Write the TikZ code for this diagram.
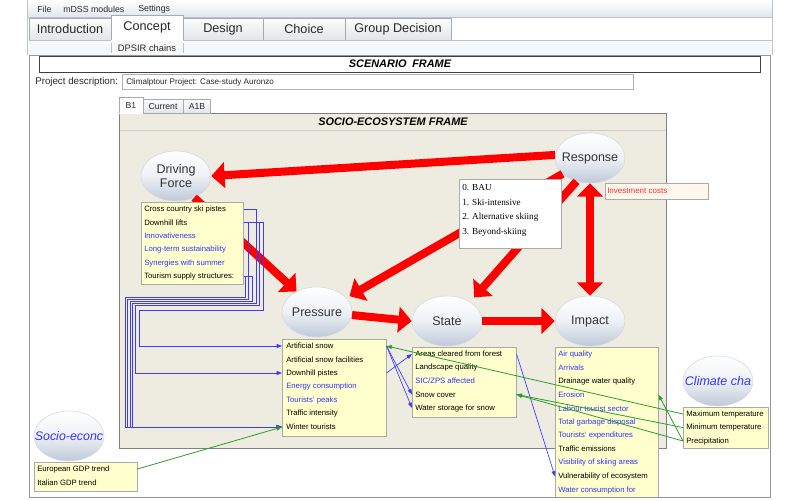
\documentclass[tikz,border=0pt]{standalone}
\usepackage{fontspec}
\setmainfont{Liberation Sans}
\newfontfamily\seriffont{Liberation Serif}
\usetikzlibrary{arrows.meta,shapes.geometric,calc,shadows}

\definecolor{beige}{RGB}{238,235,224}
\definecolor{boxyellow}{RGB}{255,255,206}
\definecolor{boxedge}{RGB}{170,170,170}
\definecolor{itemblue}{RGB}{51,51,255}
\definecolor{conblue}{RGB}{60,60,255}
\definecolor{congreen}{RGB}{40,160,40}
\definecolor{ellbot}{RGB}{190,201,216}
\definecolor{ellmid}{RGB}{238,241,245}
\definecolor{ellline}{RGB}{212,216,222}
\definecolor{tabtop}{RGB}{252,252,252}
\definecolor{tabbot}{RGB}{226,229,234}
\definecolor{tabedge}{RGB}{165,170,178}
\definecolor{uiedge}{RGB}{190,195,202}
\definecolor{menubot}{RGB}{226,230,236}
\definecolor{subrow}{RGB}{246,248,250}
\definecolor{panedge}{RGB}{150,150,150}
\definecolor{invfill}{RGB}{255,246,236}
\definecolor{invtext}{RGB}{240,50,50}
\definecolor{darktext}{RGB}{51,51,51}
\definecolor{uitext}{RGB}{40,40,40}
\definecolor{frameedge}{RGB}{128,128,128}
\definecolor{titleline}{RGB}{205,205,205}
\definecolor{fieldedge}{RGB}{170,178,190}

\tikzset{
  ell/.style={ellipse, draw=ellline, top color=white, bottom color=ellbot, middle color=ellmid,
    minimum width=52.5pt, minimum height=37.5pt, inner sep=0pt},
  elltext/.style={inner sep=0pt, font=\fontsize{9.4}{10.5}\selectfont, text=darktext, align=center},
  ybox/.style={draw=boxedge, fill=boxyellow, rectangle, inner sep=0pt, anchor=north west,
    drop shadow={shadow xshift=0.8pt, shadow yshift=-0.8pt, opacity=0.25, fill=black}},
  item/.style={anchor=west, inner sep=0pt, font=\fontsize{5.8}{7}\selectfont, text=black},
  bitem/.style={item, text=itemblue},
  opt/.style={anchor=west, inner sep=0pt, font=\seriffont\fontsize{6.9}{8}\selectfont, text=black},
  redarr/.style={draw=red, line width=6pt, -{Triangle[width=19pt,length=10pt]}},
  redboth/.style={draw=red, line width=6pt, {Triangle[width=19pt,length=10pt]}-{Triangle[width=19pt,length=10pt]}},
  bcon/.style={draw=conblue, line width=0.5pt, -{Triangle[width=3pt,length=4pt]}},
  gcon/.style={draw=congreen, line width=0.6pt, -{Triangle[width=3pt,length=4pt]}},
  tabbox/.style={draw=tabedge, top color=tabtop, bottom color=tabbot},
  tablabel/.style={inner sep=0pt, font=\fontsize{9.5}{11}\selectfont, text=uitext},
  menutext/.style={anchor=west, inner sep=0pt, font=\fontsize{6.6}{8}\selectfont, text=uitext},
  smalltab/.style={inner sep=0pt, font=\fontsize{6.5}{8}\selectfont, text=uitext},
  frametitle/.style={inner sep=0pt, font=\fontsize{8.2}{10}\selectfont\bfseries\itshape, text=black},
}

\begin{document}
\begin{tikzpicture}[x=0.75pt,y=-0.75pt]
\useasboundingbox (0,0) rectangle (800,500);
\fill[white] (0,0) rectangle (800,500);

% ---------- window chrome ----------
\shade[top color=white, bottom color=menubot] (27,0) rectangle (772,17);
\draw[uiedge] (27,17) -- (772,17);
\draw[uiedge] (27,0) -- (27,55);
\draw[uiedge] (772,0) -- (772,55);
\node[menutext] (mfile) at (37,9) {File};
\node[menutext] (mmod) at (63,9) {mDSS modules};
\node[menutext] (mset) at (138,9) {Settings};

\draw[tabbox] (29,18) rectangle (111,40);
\draw[tabbox] (183,18) rectangle (263,40);
\draw[tabbox] (263,18) rectangle (345,40);
\draw[tabbox] (345,18) rectangle (451,40);
\fill[white] (111,15) rectangle (183,41);
\draw[tabedge] (111,40) -- (111,15) -- (183,15) -- (183,40);
\draw[uiedge] (29,40) -- (111,40);
\draw[uiedge] (183,40) -- (772,40);
\node[tablabel] (tintro) at (70,29) {Introduction};
\node[tablabel] (tconc) at (147,27) {Concept};
\node[tablabel] (tdes) at (223,29) {Design};
\node[tablabel] (tcho) at (304,29) {Choice};
\node[tablabel] (tgrp) at (398,29) {Group Decision};

\fill[subrow] (29,41) rectangle (771,55);
\draw[uiedge] (29,55) -- (771,55);
\draw[uiedge] (111,43) -- (111,53);
\draw[uiedge] (183,43) -- (183,53);
\node[inner sep=0pt, font=\fontsize{7}{8}\selectfont, text=uitext] (dpsir) at (147,48) {DPSIR chains};

% ---------- scenario frame ----------
\draw[panedge] (29,55) rectangle (770,497);
\draw[black!75, line width=0.6pt] (39,56) rectangle (760,72);
\node[frametitle] (scen) at (400,64) {SCENARIO\hspace{2pt} FRAME};
\node[anchor=west, inner sep=0pt, font=\fontsize{7.3}{9}\selectfont, text=uitext] (projlab) at (35,82) {Project description:};
\node[draw=fieldedge, fill=white, anchor=north west, inner sep=0pt,
  minimum width=383.25pt, minimum height=11.25pt] (projfield) at (122,74) {};
\node[anchor=west, inner sep=0pt, font=\fontsize{6.1}{8}\selectfont, text=uitext] (projtext) at (126,82) {Climalptour Project: Case-study Auronzo};

% ---------- socio-ecosystem frame ----------
\draw[draw=frameedge, fill=beige] (119,113) rectangle (666,448);
\draw[titleline] (120,130) -- (665,130);
\node[frametitle] (socfr) at (393,122) {SOCIO-ECOSYSTEM FRAME};
\draw[tabbox] (143,99) rectangle (183,113);
\draw[tabbox] (183,99) rectangle (210,113);
\fill[white] (119,97) rectangle (143,113.5);
\draw[tabedge] (119,113) -- (119,97) -- (143,97) -- (143,113);
\node[smalltab] (tb1) at (131,106) {B1};
\node[smalltab] (tcur) at (163,107) {Current};
\node[smalltab] (ta1b) at (197,107) {A1B};

% ---------- ellipses ----------
\node[ell] (df) at (176,176) {};
\node[ell] (resp) at (590,158) {};
\node[ell] (pres) at (317,312) {};
\node[ell] (stat) at (447,321) {};
\node[ell] (imp) at (590,321) {};
\node[ell] (clim) at (718,381) {};
\node[ell] (socio) at (69,436) {};

% ---------- red arrows ----------
\draw[redarr] (resp.175) -- (df.east);
\draw[redarr] (df.-50) -- (pres.135);
\draw[redarr] (resp.-150) -- ($(pres.30)+(5,0)$);
\draw[redarr] (resp.-120) -- ($(stat.50)+(9,-2)$);
\draw[redarr] (pres.-5) -- (stat.west);
\draw[redarr] (stat.east) -- (imp.west);
\draw[redboth] (imp.north) -- (resp.south);

% ellipse labels
\node[elltext] (dflab) at (df.center) {Driving\\Force};
\node[elltext] (resplab) at (resp.center) {Response};
\node[elltext] (preslab) at (pres.center) {Pressure};
\node[elltext] (statlab) at (stat.center) {State};
\node[elltext] (implab) at (imp.center) {Impact};
\node[elltext, font=\fontsize{9.4}{10.5}\selectfont\itshape, text=itemblue] (climlab) at (clim.center) {Climate cha};
\node[elltext, font=\fontsize{9.3}{10.5}\selectfont\itshape, text=itemblue] (sociolab) at (socio.center) {Socio-econc};

% ---------- response options ----------
\node[draw=boxedge, fill=white, anchor=north west, inner sep=0pt, minimum width=76.5pt, minimum height=51.75pt,
  drop shadow={shadow xshift=0.8pt, shadow yshift=-0.8pt, opacity=0.25, fill=black}] (optbox) at (459,179) {};
\node[opt] (o0) at (462,188) {0. BAU};
\node[opt] (o1) at (462,202.5) {1. Ski-intensive};
\node[opt] (o2) at (462,217) {2. Alternative skiing};
\node[opt] (o3) at (462,232) {3. Beyond-skiing};

\node[draw=boxedge, fill=invfill, anchor=north west, inner sep=0pt, minimum width=77.25pt, minimum height=12pt,
  drop shadow={shadow xshift=0.8pt, shadow yshift=-0.8pt, opacity=0.25, fill=black}] (invbox) at (605,183) {};
\node[item, text=invtext, font=\fontsize{6}{7}\selectfont] (inv) at (607,191) {Investment costs};

% ---------- driving force box ----------
\node[ybox, minimum width=76.5pt, minimum height=61.5pt] (dfbox) at (141,202) {};
\node[item] (dfi1) at (144,209) {Cross country ski pistes};
\node[item] (dfi2) at (144,222.5) {Downhill lifts};
\node[bitem] (dfi3) at (144,236) {Innovativeness};
\node[bitem] (dfi4) at (144,249.5) {Long-term sustainability};
\node[bitem] (dfi5) at (144,263) {Synergies with summer};
\node[item] (dfi6) at (144,276.5) {Tourism supply structures:};

% ---------- pressure box ----------
\node[ybox, minimum width=78pt, minimum height=72.75pt] (prbox) at (282,339) {};
\node[item] (pri1) at (286,346) {Artificial snow};
\node[item] (pri2) at (286,359.5) {Artificial snow facilities};
\node[item] (pri3) at (286,373) {Downhill pistes};
\node[bitem] (pri4) at (286,386.5) {Energy consumption};
\node[bitem] (pri5) at (286,400) {Tourists' peaks};
\node[item] (pri6) at (286,413.5) {Traffic intensity};
\node[item] (pri7) at (286,427) {Winter tourists};

% ---------- state box ----------
\node[ybox, minimum width=78pt, minimum height=52.5pt] (stbox) at (412,347) {};
\node[item] (sti1) at (415,354) {Areas cleared from forest};
\node[item] (sti2) at (415,367.5) {Landscape quality};
\node[bitem] (sti3) at (415,381) {SIC/ZPS affected};
\node[item] (sti4) at (415,394.5) {Snow cover};
\node[item] (sti5) at (415,408) {Water storage for snow};

% ---------- impact box (clipped by panel) ----------
\begin{scope}
\clip (0,0) rectangle (800,496);
\node[ybox, minimum width=77.25pt, minimum height=114.75pt] (imbox) at (555,347) {};
\node[bitem] (imi1) at (558,354) {Air quality};
\node[bitem] (imi2) at (558,367.6) {Arrivals};
\node[item] (imi3) at (558,381.2) {Drainage water quality};
\node[bitem] (imi4) at (558,394.8) {Erosion};
\node[bitem] (imi5) at (558,408.4) {Labour tourist sector};
\node[bitem] (imi6) at (558,422) {Total garbage disposal};
\node[bitem] (imi7) at (558,435.6) {Tourists' expenditures};
\node[item] (imi8) at (558,449.2) {Traffic emissions};
\node[bitem] (imi9) at (558,462.8) {Visibility of skiing areas};
\node[item] (imi10) at (558,476.4) {Vulnerability of ecosystem};
\node[bitem] (imi11) at (558,490) {Water consumption for};
\end{scope}

% ---------- climate box ----------
\node[ybox, minimum width=63.75pt, minimum height=30.75pt] (clbox) at (683,407) {};
\node[item] (cli1) at (686,414) {Maximum temperature};
\node[item] (cli2) at (686,427.5) {Minimum temperature};
\node[item] (cli3) at (686,441) {Precipitation};

% ---------- socio-economic box ----------
\node[ybox, minimum width=77.25pt, minimum height=21.75pt] (sobox) at (34,462) {};
\node[item] (soi1) at (37,469) {European GDP trend};
\node[item] (soi2) at (37,483) {Italian GDP trend};

% ---------- blue routed connectors ----------
\draw[bcon] (dfbox.east |- dfi2) -| (263,310) -| (139,346) -- (prbox.west |- pri1);
\draw[bcon] (dfbox.east |- dfi2) -| (259,305) -| (135,373) -- (prbox.west |- pri3);
\draw[bcon] (dfbox.east |- dfi1) -| (256,303) -| (132,427) -- (prbox.west |- pri7);
\draw[bcon] (dfbox.east |- dfi6) -| (252,301) -| (130,427) -- (prbox.west |- pri7);
\draw[bcon] (dfbox.east |- dfi2) -| (248,299) -| (127,427) -- (prbox.west |- pri7);
\draw[bcon] (dfbox.east |- dfi6) -| (245,297) -| (125,427) -- (prbox.west |- pri7);

\draw[bcon] (prbox.east |- pri3) -- (stbox.west |- sti1);
\draw[bcon] (prbox.east |- pri1) -- (stbox.west |- sti4);
\draw[bcon] (prbox.east |- pri1) -- (stbox.west |- sti5);
\draw[bcon] (stbox.east |- sti1) -- (imbox.west |- imi10);

% ---------- green connectors ----------
\draw[gcon] (clbox.west |- cli1) -- (prbox.east |- pri1);
\draw[gcon] (clbox.west |- cli2) -- (stbox.east |- sti4);
\draw[gcon] (clbox.west |- cli3) -- (stbox.east |- sti4);
\draw[gcon] (clbox.west |- cli3) -- (imbox.east |- imi4);
\draw[gcon] (sobox.east |- soi1) -- (prbox.west |- pri7);

\draw[panedge] (29,497) -- (770,497);
\draw[panedge] (770,55) -- (770,497);
\end{tikzpicture}
\end{document}
